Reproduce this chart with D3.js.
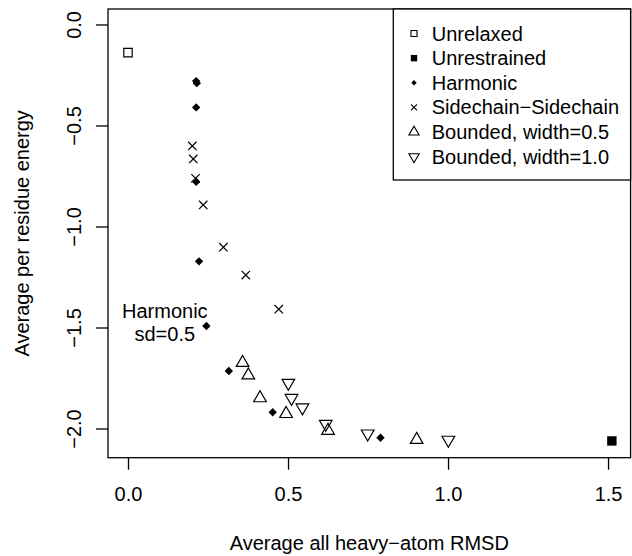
<!DOCTYPE html>
<head>
<meta charset="utf-8">
<title>Energy vs RMSD</title>
<style>
  body { margin: 0; background: #fff; }
  text { font-family: "Liberation Sans", Arial, sans-serif; fill: #000; }
</style>
</head>
<body>
<script src="https://d3js.org/d3.v7.min.js"></script>
<script>

// values: [rmsd, energy]
var unrelaxed   = [[0.000, -0.137]];
var unrestrained = [[1.512, -2.059]];
var harmonic = [[0.213, -0.278], [0.215, -0.288], [0.213, -0.408], [0.213, -0.776],
                [0.222, -1.170], [0.245, -1.490], [0.315, -1.713], [0.452, -1.917],
                [0.789, -2.043]];
var sidechain = [[0.201, -0.599], [0.204, -0.663], [0.211, -0.759], [0.235, -0.891],
                 [0.298, -1.100], [0.368, -1.238], [0.471, -1.407]];
var bounded05 = [[0.358, -1.672], [0.376, -1.734], [0.4125, -1.847], [0.494, -1.925],
                 [0.625, -2.008], [0.902, -2.053]];
var bounded10 = [[0.501, -1.772], [0.511, -1.847], [0.545, -1.894], [0.618, -1.975],
                 [0.749, -2.023], [1.001, -2.054]];

var xTicks = [0, 0.5, 1.0, 1.5];
var yTicks = [0, -0.5, -1.0, -1.5, -2.0];
var legendLabels = ["Unrelaxed", "Unrestrained", "Harmonic", "Sidechain\u2212Sidechain",
                    "Bounded, width=0.5", "Bounded, width=1.0"];

var width = 632, height = 556;
var fs = 20;

var svg = d3.select("body").append("svg")
  .attr("width", width)
  .attr("height", height);

var x = d3.scaleLinear().domain([-0.0625, 1.5705]).range([108, 630.6]);
var y = d3.scaleLinear().domain([0.079, -2.142]).range([9, 457.7]);

// R style point shapes, sizes in px
function shape(type, s) {
  var p = d3.path();
  if (type == "sq") {
    p.rect(-s, -s, 2 * s, 2 * s);
  } else if (type == "dia") {
    p.moveTo(0, -s); p.lineTo(s, 0); p.lineTo(0, s); p.lineTo(-s, 0); p.closePath();
  } else if (type == "x") {
    p.moveTo(-s, -s); p.lineTo(s, s); p.moveTo(-s, s); p.lineTo(s, -s);
  } else if (type == "up") {
    p.moveTo(0, -1.555 * s); p.lineTo(1.347 * s, 0.778 * s); p.lineTo(-1.347 * s, 0.778 * s); p.closePath();
  } else if (type == "down") {
    p.moveTo(0, 1.555 * s); p.lineTo(1.347 * s, -0.778 * s); p.lineTo(-1.347 * s, -0.778 * s); p.closePath();
  }
  return p.toString();
}

var series = [
  { data: unrelaxed,    type: "sq",   size: 4.2, fill: "none" },
  { data: unrestrained, type: "sq",   size: 4.7, fill: "#000" },
  { data: harmonic,     type: "dia",  size: 4.2, fill: "#000" },
  { data: sidechain,    type: "x",    size: 4.2, fill: "none" },
  { data: bounded05,    type: "up",   size: 4.7, fill: "none" },
  { data: bounded10,    type: "down", size: 4.7, fill: "none" }
];
var legendSize = [3.0, 3.2, 2.7, 3.0, 3.8, 3.8];

series.forEach(function(s) {
  svg.append("g").selectAll("path")
    .data(s.data)
    .enter().append("path")
    .attr("transform", function(d) { return "translate(" + x(d[0]) + "," + y(d[1]) + ")"; })
    .attr("d", shape(s.type, s.size))
    .attr("fill", s.fill)
    .attr("stroke", s.fill == "none" ? "#000" : "none")
    .attr("stroke-width", 1.2);
});

// box
svg.append("rect")
  .attr("x", x.range()[0]).attr("y", y.range()[0])
  .attr("width", x.range()[1] - x.range()[0])
  .attr("height", y.range()[1] - y.range()[0])
  .attr("fill", "none").attr("stroke", "#000").attr("stroke-width", 1.3);

// axes
var xAxis = d3.axisBottom(x).tickValues(xTicks).tickSize(12).tickPadding(17)
  .tickFormat(d3.format(".1f"));
var gx = svg.append("g").attr("transform", "translate(0," + y.range()[1] + ")").call(xAxis);
gx.select(".domain").remove();
gx.selectAll("line").attr("stroke", "#000").attr("stroke-width", 1.3);
gx.selectAll("text").attr("font-size", fs).attr("font-family", "Liberation Sans, Arial, sans-serif");

var gy = svg.append("g");
yTicks.forEach(function(t) {
  gy.append("line")
    .attr("x1", x.range()[0] - 12).attr("x2", x.range()[0])
    .attr("y1", y(t)).attr("y2", y(t))
    .attr("stroke", "#000").attr("stroke-width", 1.3);
  gy.append("text")
    .attr("transform", "translate(81," + y(t) + ") rotate(-90)")
    .attr("text-anchor", "middle")
    .attr("font-size", fs)
    .text(d3.format(".1f")(t).replace("-", "\u2212"));
});

// axis titles
svg.append("text")
  .attr("x", (x.range()[0] + x.range()[1]) / 2).attr("y", 550)
  .attr("text-anchor", "middle").attr("font-size", fs)
  .text("Average all heavy\u2212atom RMSD");
svg.append("text")
  .attr("transform", "translate(29," + (y.range()[0] + y.range()[1]) / 2 + ") rotate(-90)")
  .attr("text-anchor", "middle").attr("font-size", fs)
  .text("Average per residue energy");

// annotation
var note = svg.append("text")
  .attr("text-anchor", "middle").attr("font-size", fs);
note.append("tspan").attr("x", x(0.115)).attr("y", y(-1.478) - 5.2).text("Harmonic");
note.append("tspan").attr("x", x(0.115)).attr("y", y(-1.478) + 17.2).text("sd=0.5");

// legend
var leg = svg.append("g");
leg.append("rect")
  .attr("x", 393.3).attr("y", y.range()[0])
  .attr("width", x.range()[1] - 393.3).attr("height", 180 - y.range()[0])
  .attr("fill", "#fff").attr("stroke", "#000").attr("stroke-width", 1.3);
legendLabels.forEach(function(lab, i) {
  var cy = 33.5 + i * 24.65;
  var s = series[i];
  leg.append("path")
    .attr("transform", "translate(414," + cy + ")")
    .attr("d", shape(s.type, legendSize[i]))
    .attr("fill", s.fill)
    .attr("stroke", s.fill == "none" ? "#000" : "none")
    .attr("stroke-width", 1.1);
  leg.append("text")
    .attr("x", 431.7).attr("y", cy + 7)
    .attr("font-size", fs)
    .text(lab);
});

</script>
</body>
